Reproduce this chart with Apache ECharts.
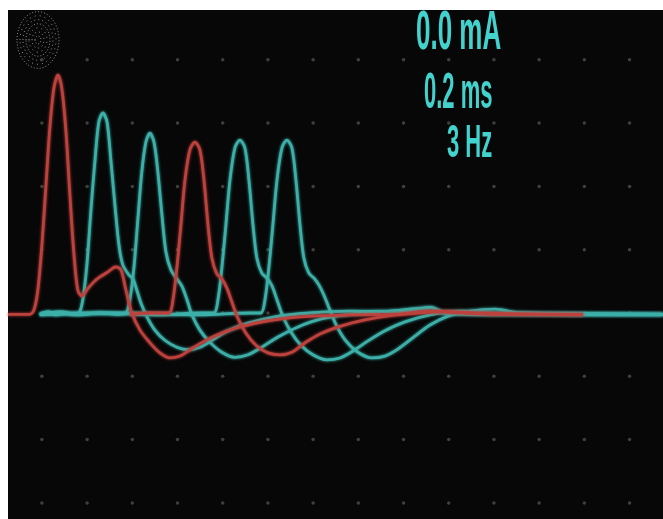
<!DOCTYPE html>
<html>
<head>
<meta charset="utf-8">
<script src="https://cdn.jsdelivr.net/npm/echarts@6/dist/echarts.min.js"></script>
<style>
  html, body { margin: 0; padding: 0; background: #ffffff; }
  #chart { width: 663px; height: 519px; }
</style>
</head>
<body>
<div id="chart"></div>
<script>
// Sweep: time in ms (0.2 ms per division); amplitude in screen divisions.
const timeGrid = [0, 0.2, 0.4, 0.6, 0.8, 1.0, 1.2, 1.4, 1.6, 1.8, 2.0, 2.2, 2.4, 2.6];
const ampGrid = [-3, -2, -1, 0, 1, 2, 3, 4];
const readout = ['0.0 mA', '0.2 ms', '3 Hz'];

// Six superimposed responses (red / teal), [time ms, amplitude div]
const traceA = [[-0.150,-0.02],[-0.053,-0.02],[-0.035,0.05],[-0.018,0.36],[0.000,1.07],[0.018,2.02],[0.035,2.92],[0.053,3.55],[0.071,3.76],[0.088,3.55],[0.106,2.89],[0.124,1.86],[0.142,0.92],[0.159,0.36],[0.177,0.27],[0.204,0.39],[0.235,0.51],[0.257,0.57],[0.292,0.65],[0.327,0.73],[0.350,0.68],[0.372,0.36],[0.398,0.00],[0.434,-0.27],[0.478,-0.47],[0.522,-0.63],[0.566,-0.71],[0.611,-0.68],[0.655,-0.58],[0.721,-0.44],[0.788,-0.33],[0.876,-0.22],[0.987,-0.13],[1.142,-0.06],[1.363,-0.03],[1.584,-0.02],[1.761,0.02],[2.027,-0.02],[2.394,-0.02]];

const traceB = [[-0.009,-0.02],[0.027,0.02],[0.062,-0.03],[0.097,0.00],[0.133,-0.02],[0.164,0.00],[0.181,0.21],[0.199,0.76],[0.217,1.63],[0.235,2.42],[0.252,3.02],[0.270,3.16],[0.288,3.02],[0.305,2.42],[0.323,1.71],[0.341,1.07],[0.358,0.76],[0.385,0.60],[0.403,0.54],[0.420,0.36],[0.438,0.16],[0.465,-0.06],[0.500,-0.27],[0.544,-0.43],[0.597,-0.54],[0.646,-0.58],[0.699,-0.54],[0.752,-0.43],[0.823,-0.28],[0.912,-0.16],[1.031,-0.06],[1.186,0.00],[1.363,0.03],[1.584,0.02],[1.721,0.09],[1.783,0.00],[2.027,-0.02],[2.748,-0.02]];

const traceC = [[-0.009,-0.02],[0.080,0.02],[0.168,-0.03],[0.257,0.00],[0.336,-0.02],[0.372,0.00],[0.389,0.21],[0.407,0.71],[0.425,1.50],[0.442,2.23],[0.460,2.70],[0.478,2.84],[0.496,2.70],[0.513,2.23],[0.531,1.55],[0.549,0.96],[0.571,0.68],[0.597,0.54],[0.619,0.43],[0.642,0.21],[0.664,-0.03],[0.699,-0.27],[0.743,-0.46],[0.796,-0.62],[0.854,-0.70],[0.912,-0.66],[0.973,-0.54],[1.044,-0.38],[1.133,-0.22],[1.239,-0.09],[1.363,-0.02],[1.540,0.03],[1.721,0.08],[1.783,0.00],[2.027,-0.02],[2.748,-0.02]];

const traceD = [[0.389,-0.02],[0.478,0.00],[0.562,0.00],[0.580,0.21],[0.597,0.71],[0.615,1.39],[0.633,2.10],[0.655,2.58],[0.677,2.70],[0.699,2.58],[0.717,2.10],[0.735,1.39],[0.752,0.87],[0.774,0.62],[0.796,0.54],[0.819,0.39],[0.841,0.17],[0.867,-0.08],[0.903,-0.32],[0.947,-0.51],[1.000,-0.63],[1.053,-0.66],[1.106,-0.62],[1.164,-0.47],[1.230,-0.33],[1.319,-0.21],[1.429,-0.11],[1.562,-0.03],[1.717,0.03],[1.894,0.00],[2.394,-0.03]];

const traceE = [[-0.009,-0.02],[0.257,0.00],[0.522,-0.03],[0.699,0.00],[0.761,0.00],[0.779,0.21],[0.796,0.71],[0.814,1.39],[0.832,2.10],[0.854,2.61],[0.876,2.73],[0.898,2.61],[0.916,2.10],[0.934,1.39],[0.951,0.87],[0.973,0.63],[0.996,0.55],[1.018,0.43],[1.040,0.21],[1.066,-0.05],[1.102,-0.30],[1.146,-0.51],[1.199,-0.66],[1.261,-0.74],[1.319,-0.71],[1.376,-0.60],[1.443,-0.44],[1.518,-0.28],[1.606,-0.14],[1.717,-0.03],[1.850,0.03],[1.982,0.00],[2.748,-0.02]];

const traceF = [[-0.009,-0.02],[0.345,0.00],[0.699,-0.03],[0.920,0.00],[0.969,0.00],[0.987,0.21],[1.004,0.71],[1.022,1.39],[1.040,2.10],[1.062,2.61],[1.084,2.73],[1.106,2.61],[1.124,2.10],[1.142,1.39],[1.159,0.87],[1.181,0.63],[1.204,0.55],[1.226,0.44],[1.248,0.28],[1.274,0.05],[1.305,-0.21],[1.345,-0.44],[1.398,-0.62],[1.460,-0.71],[1.518,-0.68],[1.575,-0.57],[1.642,-0.39],[1.717,-0.19],[1.797,-0.05],[1.894,0.03],[2.005,0.06],[2.115,0.00],[2.748,-0.02]];

const RED = '#bd423d';
const TEAL = '#3cb0a8';
const TEXT = '#43d3cf';

// Dotted graticule at every division intersection
const graticule = [];
timeGrid.forEach(t => ampGrid.forEach(a => graticule.push([t, a])));

function trace(name, data, color) {
  return {
    name, type: 'line', data,
    showSymbol: false, smooth: 0.3,
    lineStyle: { color, width: 2.8, shadowColor: color, shadowBlur: 3 },
    emphasis: { disabled: true },
    z: 3
  };
}

// Speckled cursor patch at the top-left corner
const speckle = [];
[3, 6, 9, 12, 15, 18, 21].forEach((r, i) => {
  speckle.push({
    type: 'ellipse',
    shape: { cx: 38, cy: 40, rx: r, ry: r * 1.35 },
    style: { fill: null, stroke: '#8c8c8c', lineWidth: 1, lineDash: [1, 2 + (i % 3)] },
    opacity: 0.5,
    silent: true
  });
});

const readoutPos = [
  { x: 416, y: 34, size: 26, sy: 2.1 },
  { x: 424, y: 94, size: 22, sy: 2.3 },
  { x: 447, y: 144, size: 22, sy: 2.1 }
];
const readoutText = readout.map((t, i) => ({
  type: 'text',
  x: readoutPos[i].x, y: readoutPos[i].y,
  scaleY: readoutPos[i].sy,
  style: {
    text: t, fill: TEXT,
    font: 'bold ' + readoutPos[i].size + 'px "Liberation Sans Narrow", "Liberation Sans", Arial, sans-serif',
    textAlign: 'left', textVerticalAlign: 'middle',
    shadowColor: TEXT, shadowBlur: 4
  },
  silent: true, z: 10
}));

const chart = echarts.init(document.getElementById('chart'), null, { renderer: 'canvas' });
chart.setOption({
  backgroundColor: '#ffffff',
  animation: false,
  grid: { left: 8, top: 10, right: 0, bottom: 0, show: true, backgroundColor: '#070707', borderWidth: 0 },
  xAxis: {
    type: 'value', min: -0.15, max: 2.748,
    axisLine: { show: false }, axisTick: { show: false }, axisLabel: { show: false }, splitLine: { show: false }
  },
  yAxis: {
    type: 'value', min: -3.254, max: 4.787,
    axisLine: { show: false }, axisTick: { show: false }, axisLabel: { show: false }, splitLine: { show: false }
  },
  series: [
    {
      name: 'graticule', type: 'scatter', data: graticule,
      symbol: 'circle', symbolSize: 3.5,
      itemStyle: { color: '#4d4d4d' }, silent: true, z: 1
    },
    trace('B', traceB, TEAL),
    trace('C', traceC, TEAL),
    trace('E', traceE, TEAL),
    trace('F', traceF, TEAL),
    trace('A', traceA, RED),
    trace('D', traceD, RED)
  ],
  graphic: [...speckle, ...readoutText]
});
</script>
</body>
</html>
